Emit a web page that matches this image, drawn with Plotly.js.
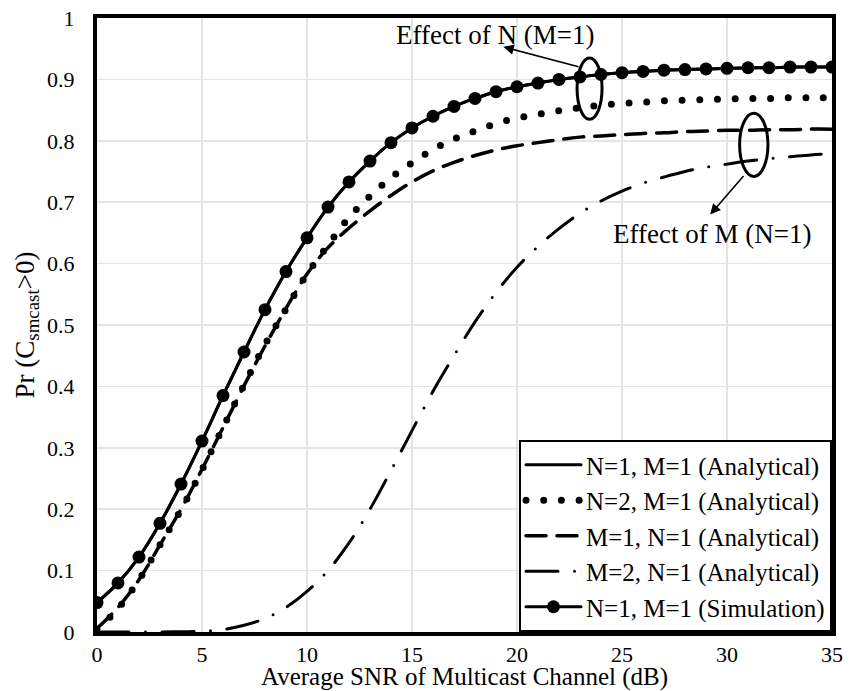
<!DOCTYPE html>
<html><head><meta charset="utf-8">
<script src="https://cdn.plot.ly/plotly-3.0.1.min.js"></script>
<style>
html,body{margin:0;padding:0;background:#fff;}
#chart{width:850px;height:691px;}
.js-line{stroke-linecap:round;}
</style></head><body><div id="chart"></div><script>
// ---- data ----
var snr = [0,1,2,3,4,5,6,7,8,9,10,11,12,13,14,15,16,17,18,19,20,21,22,23,24,25,26,27,28,29,30,31,32,33,34,35];
var n1m1Analytical = [0.048,0.080,0.122,0.177,0.241,0.311,0.385,0.456,0.525,0.587,0.642,0.692,0.733,0.767,0.797,0.821,0.840,0.856,0.869,0.880,0.888,0.894,0.900,0.904,0.908,0.911,0.913,0.915,0.916,0.917,0.918,0.919,0.919,0.920,0.920,0.920];
var n2m1Analytical = [0.004,0.038,0.085,0.142,0.199,0.264,0.333,0.402,0.468,0.526,0.583,0.630,0.675,0.710,0.740,0.764,0.786,0.803,0.816,0.828,0.837,0.843,0.849,0.854,0.858,0.861,0.863,0.865,0.866,0.867,0.868,0.869,0.869,0.870,0.870,0.870];
var m1n1Analytical = [0.006,0.040,0.085,0.142,0.200,0.265,0.333,0.401,0.466,0.527,0.583,0.626,0.658,0.686,0.711,0.733,0.751,0.765,0.776,0.785,0.792,0.797,0.802,0.806,0.808,0.810,0.812,0.813,0.815,0.816,0.817,0.817,0.818,0.818,0.819,0.819];
var m2n1Analytical = [0.000,0.000,0.000,0.000,0.0005,0.001,0.004,0.011,0.022,0.040,0.066,0.100,0.145,0.200,0.263,0.328,0.392,0.450,0.505,0.553,0.594,0.628,0.657,0.682,0.702,0.718,0.731,0.741,0.750,0.757,0.762,0.767,0.771,0.774,0.777,0.779];
var n1m1Simulation = [0.048,0.080,0.122,0.177,0.241,0.311,0.385,0.456,0.525,0.587,0.642,0.692,0.733,0.767,0.797,0.821,0.840,0.856,0.869,0.880,0.888,0.894,0.900,0.904,0.908,0.911,0.913,0.915,0.916,0.917,0.918,0.919,0.919,0.920,0.920,0.920];
var seriesNames = ['N=1, M=1 (Analytical)','N=2, M=1 (Analytical)','M=1, N=1 (Analytical)','M=2, N=1 (Analytical)','N=1, M=1 (Simulation)'];
var xTitle = 'Average SNR of Multicast Channel (dB)';
var yTitle = 'Pr (C<sub>smcast</sub>>0)';
var noteN = 'Effect of N (M=1)';
var noteM = 'Effect of M (N=1)';

var FONT = 'Liberation Serif, Times New Roman, serif';
var traces = [
  {x: snr, y: n1m1Analytical, name: seriesNames[0], mode: 'lines',
   line: {color: '#000', width: 3, shape: 'spline'}},
  {x: snr, y: n2m1Analytical, name: seriesNames[1], mode: 'lines',
   line: {color: '#000', width: 7, dash: '0px,17.7px', shape: 'spline'}},
  {x: snr, y: m1n1Analytical, name: seriesNames[2], mode: 'lines',
   line: {color: '#000', width: 3.5, dash: '20px,11px', shape: 'spline'}},
  {x: snr, y: m2n1Analytical, name: seriesNames[3], mode: 'lines',
   line: {color: '#000', width: 3, dash: '32px,16.5px,0px,16.5px', shape: 'spline'}},
  {x: snr, y: n1m1Simulation, name: seriesNames[4], mode: 'lines+markers',
   line: {color: '#000', width: 3, shape: 'spline'},
   marker: {color: '#000', size: 13, symbol: 'circle'}}
];

var axisCommon = {
  showgrid: true, gridcolor: '#e4e4e4', gridwidth: 1.5,
  showline: true, linecolor: '#000', linewidth: 4, mirror: true,
  zeroline: false, ticks: '', tickfont: {family: FONT, size: 22, color: '#000'}
};

var layout = {
  width: 850, height: 691,
  margin: {l: 97, r: 18, t: 18, b: 59},
  paper_bgcolor: '#fff', plot_bgcolor: '#fff',
  font: {family: FONT, color: '#000', size: 22},
  showlegend: true,
  xaxis: Object.assign({}, axisCommon, {
    range: [0, 35], tick0: 0, dtick: 5, ticklabelstandoff: 0,
    title: {text: xTitle, font: {family: FONT, size: 25, color: '#000'}, standoff: 11}
  }),
  yaxis: Object.assign({}, axisCommon, {
    range: [0, 1], tick0: 0, dtick: 0.1, ticklabelstandoff: 14,
    title: {text: yTitle, font: {family: FONT, size: 27, color: '#000'}, standoff: 6}
  }),
  legend: {
    x: 1, xanchor: 'right', y: 0, yanchor: 'bottom',
    bgcolor: '#fff', bordercolor: '#000', borderwidth: 2,
    font: {family: FONT, size: 25, color: '#000'},
    itemwidth: 55, tracegroupgap: 0
  },
  shapes: [
    {type: 'circle', xref: 'x', yref: 'y', x0: 22.86, x1: 24.05, y0: 0.835, y1: 0.935,
     line: {color: '#000', width: 3}, fillcolor: 'rgba(0,0,0,0)', layer: 'above'},
    {type: 'circle', xref: 'x', yref: 'y', x0: 30.6, x1: 31.95, y0: 0.742, y1: 0.845,
     line: {color: '#000', width: 3}, fillcolor: 'rgba(0,0,0,0)', layer: 'above'}
  ],
  annotations: [
    {xref: 'x', yref: 'y', x: 19.35, y: 0.953, axref: 'x', ayref: 'y', ax: 23.0, ay: 0.92,
     text: '', showarrow: true, arrowhead: 2, arrowsize: 1.3, arrowwidth: 1.6, arrowcolor: '#000'},
    {xref: 'x', yref: 'y', x: 29.2, y: 0.68, axref: 'x', ayref: 'y', ax: 30.85, ay: 0.745,
     text: '', showarrow: true, arrowhead: 2, arrowsize: 1.3, arrowwidth: 1.6, arrowcolor: '#000'},
    {xref: 'x', yref: 'y', x: 18.97, y: 0.973, text: noteN, showarrow: false,
     font: {family: FONT, size: 27, color: '#000'}},
    {xref: 'x', yref: 'y', x: 29.3, y: 0.648, text: noteM, showarrow: false,
     font: {family: FONT, size: 27, color: '#000'}}
  ]
};

Plotly.newPlot('chart', traces, layout, {staticPlot: true, displayModeBar: false});
</script></body></html>
